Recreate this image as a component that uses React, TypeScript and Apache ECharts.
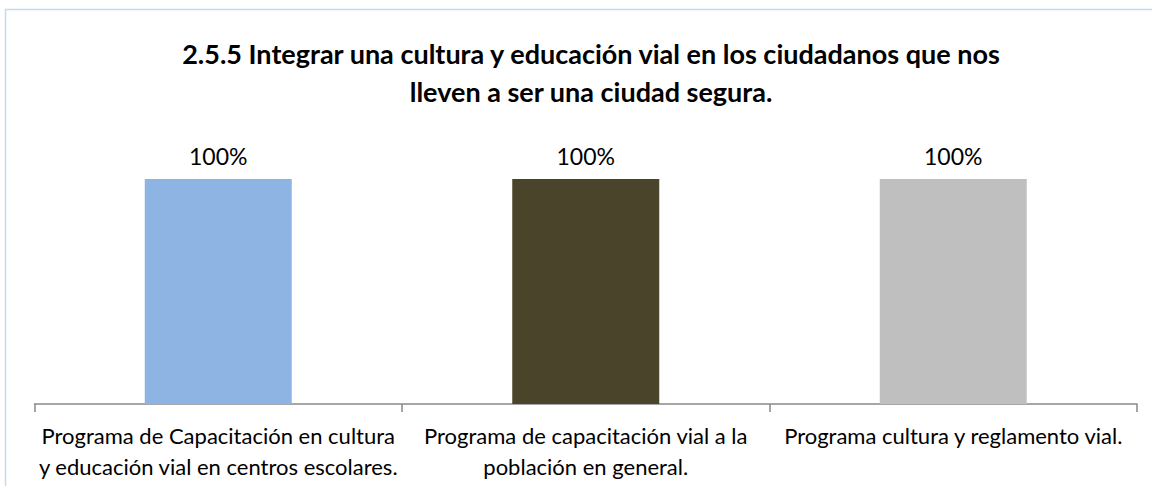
import React, { useEffect, useRef } from "react";
import * as echarts from "echarts";

const titleLines = [
  "2.5.5 Integrar una cultura y educación vial en los ciudadanos que nos",
  "lleven a ser una ciudad segura.",
];
const categories = [
  "Programa de Capacitación en cultura\ny educación vial en centros escolares.",
  "Programa de capacitación vial a la\npoblación en general.",
  "Programa cultura y reglamento vial.",
];
const values = [1, 1, 1];
const colors = ["#8EB4E3", "#4A452A", "#BFBFBF"];

const FONT = "Lato, 'Open Sans', sans-serif";

export default function App() {
  const ref = useRef<HTMLDivElement>(null);
  useEffect(() => {
    if (!ref.current) return;
    const chart = echarts.init(ref.current, undefined, { renderer: "svg" });
    chart.setOption({
      animation: false,
      backgroundColor: "#ffffff",
      graphic: [
        {
          type: "rect",
          shape: { x: 5.5, y: 9.5, width: 1300, height: 700 },
          style: { fill: "none", stroke: "#C6D9F1", lineWidth: 1.5 },
          silent: true,
        },
      ],
      title: {
        text: titleLines.join("\n"),
        left: 586,
        top: 29,
        textAlign: "center",
        textStyle: {
          fontFamily: FONT,
          fontWeight: "bold",
          fontSize: 27,
          lineHeight: 38,
          color: "#000000",
        },
      },
      grid: { left: 34.5, right: 15, top: 179, bottom: 82, containLabel: false },
      xAxis: {
        type: "category",
        data: categories,
        axisLine: { lineStyle: { color: "#898989", width: 1.5 } },
        axisTick: { show: true, length: 8, lineStyle: { color: "#898989", width: 1.5 } },
        axisLabel: {
          interval: 0,
          margin: 16,
          fontFamily: FONT,
          fontSize: 22,
          lineHeight: 31,
          color: "#000000",
        },
      },
      yAxis: {
        type: "value",
        min: 0,
        max: 1,
        show: false,
        splitLine: { show: false },
      },
      series: [
        {
          type: "bar",
          barWidth: "40%",
          data: values.map((v, i) => ({ value: v, itemStyle: { color: colors[i] } })),
          label: {
            show: true,
            position: "top",
            distance: 12,
            formatter: (p: any) => Math.round(p.value * 100) + "%",
            fontFamily: FONT,
            fontSize: 23,
            color: "#000000",
          },
        },
      ],
    });
    return () => chart.dispose();
  }, []);
  return (
    <div
      ref={ref}
      style={{ position: "absolute", left: 0, top: 0, width: 1152, height: 486 }}
    />
  );
}
